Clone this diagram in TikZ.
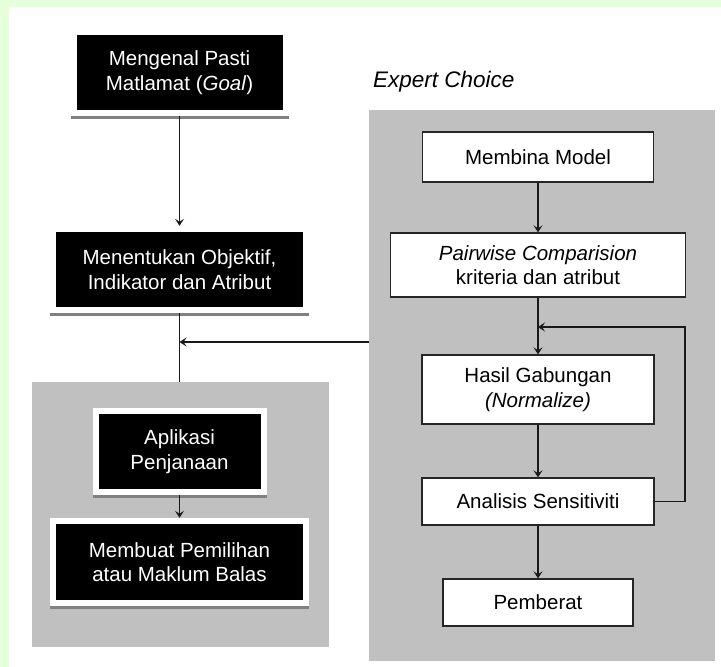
\documentclass[tikz,border=0pt]{standalone}
\usepackage{fontspec}
\setmainfont{Liberation Sans}
\usetikzlibrary{arrows.meta,shadows}

\definecolor{pagegreen}{RGB}{229,255,218}
\definecolor{panelgray}{RGB}{192,192,192}
\definecolor{shadowgray}{RGB}{128,128,128}

\tikzset{
  txt/.style={font=\fontsize{20.5pt}{24.5pt}\selectfont, align=center, inner sep=0pt},
  panel/.style={fill=panelgray, inner sep=0pt},
  darkbox/.style={txt, fill=white, text=white,
    drop shadow={shadow xshift=0pt, shadow yshift=-3pt, fill=shadowgray, opacity=1},
    path picture={\fill[black]
      ([xshift=6pt,yshift=6pt]path picture bounding box.south west) rectangle
      ([xshift=-6pt,yshift=-6pt]path picture bounding box.north east);}},
  lightbox/.style={txt, fill=white, draw=black!85, line width=1.4pt},
  arr/.style={-{Stealth[length=7pt,width=9pt,inset=3pt]}, line width=1.5pt, draw=black!90},
  plain/.style={line width=1.5pt, draw=black!90},
}

\begin{document}
\begin{tikzpicture}[x=1pt,y=-1pt]
\useasboundingbox (0,0) rectangle (721,667);
\fill[white] (0,0) rectangle (721,667);
% page edge bands
\fill[pagegreen] (0,0) rectangle (721,7);
\fill[pagegreen] (0,0) rectangle (9,667);

% grey panels
\node[panel, minimum width=297pt, minimum height=265pt] (lp) at (180.5,514.5) {};
\node[panel, minimum width=346pt, minimum height=551pt] (rp) at (542,385.5) {};

\node[font=\fontsize{22.5pt}{26pt}\selectfont\itshape, anchor=base west, inner sep=0pt]
  (ec) at (373,87.5) {Expert Choice};

% left column
\node[darkbox, minimum width=218pt, minimum height=87pt] (b1) at (179.5,72.5)
  {Mengenal Pasti\\Matlamat (\textit{Goal})};
\node[darkbox, minimum width=259pt, minimum height=87pt] (b2) at (179.5,269.5)
  {Menentukan Objektif,\\Indikator dan Atribut};
\node[darkbox, minimum width=174pt, minimum height=87pt] (b3) at (179.5,451.5)
  {Aplikasi\\Penjanaan};
\node[darkbox, minimum width=259pt, minimum height=88pt] (b4) at (179.5,562)
  {Membuat Pemilihan\\atau Maklum Balas};

% right column
\node[lightbox, minimum width=231pt, minimum height=50pt] (m1) at (538,157) {Membina Model};
\node[lightbox, minimum width=295pt, minimum height=64pt] (m2) at (538,265)
  {\textit{Pairwise Comparision}\\kriteria dan atribut};
\node[lightbox, minimum width=232pt, minimum height=69pt] (m3) at (538,389.5)
  {Hasil Gabungan\\\textit{(Normalize)}};
\node[lightbox, minimum width=232pt, minimum height=47pt] (m4) at (538,501.5) {Analisis Sensitiviti};
\node[lightbox, minimum width=190pt, minimum height=47pt] (m5) at (538,602.5) {Pemberat};

% connectors
\coordinate (join) at (179.5,342);
\coordinate (fbr) at (685,327);
\coordinate (fb) at (538,327);

\draw[arr] (b1.south) -- (b2.north);
\draw[plain] (b2.south) -- (b2.south |- lp.north);
\draw[arr] (rp.west |- join) -- (join);
\draw[arr] (b3.south) -- (b4.north);

\draw[arr] (m1.south) -- (m2.north);
\draw[arr] (m2.south) -- (m3.north);
\draw[arr] (m3.south) -- (m4.north);
\draw[arr] (m4.south) -- (m5.north);
\draw[arr] (m4.east) -| (fbr) -- (fb);
\end{tikzpicture}
\end{document}
